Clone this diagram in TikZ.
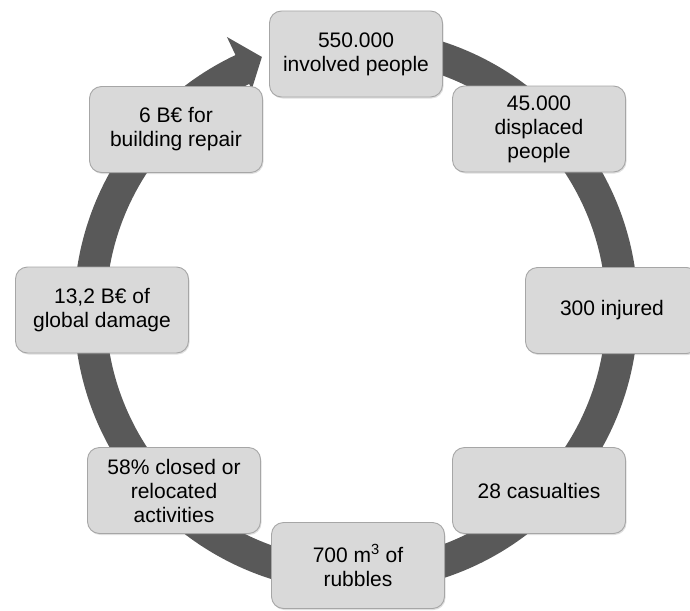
\documentclass[tikz,border=0pt]{standalone}
\usepackage{fontspec}
\setmainfont{Liberation Sans}
\usetikzlibrary{shadows}
\definecolor{ringc}{HTML}{595959}
\definecolor{boxfill}{HTML}{D9D9D9}
\definecolor{boxline}{HTML}{A6A6A6}
\tikzset{
  card/.style={draw=boxline, line width=0.9pt, fill=boxfill, rounded corners=12pt,
    minimum width=173pt, minimum height=86pt, align=center, inner sep=2pt,
    font=\fontsize{21pt}{24pt}\selectfont, text=black,
    drop shadow={opacity=0.25, shadow xshift=1pt, shadow yshift=-1.5pt}}
}
\begin{document}
\begin{tikzpicture}[x=1pt,y=1pt]
\useasboundingbox (0,0) rectangle (690,-610);
\coordinate (C) at (356,-310);
\begin{scope}[shift={(C)}]
  \fill[ringc] (100:282) arc[start angle=100, end angle=-244.7, radius=282]
    -- (115.3:302) -- (110.4:270) -- (115.3:244) -- (115.3:250)
    arc[start angle=-244.7, end angle=100, radius=250] -- cycle;
\end{scope}
\node[card] (n1) at (356,-54) {550.000\\involved people};
\node[card] (n2) at (539,-129) {45.000\\displaced\\people};
\node[card] (n3) at (612,-310.5) {300 injured};
\node[card] (n4) at (539,-490.5) {28 casualties};
\node[card] (n5) at (358,-565.5) {700 m\textsuperscript{3} of\\rubbles};
\node[card] (n6) at (174,-490.5) {58\% closed or\\relocated\\activities};
\node[card] (n7) at (102,-310) {13,2 B€ of\\global damage};
\node[card] (n8) at (176,-129.5) {6 B€ for\\building repair};
\end{tikzpicture}
\end{document}
